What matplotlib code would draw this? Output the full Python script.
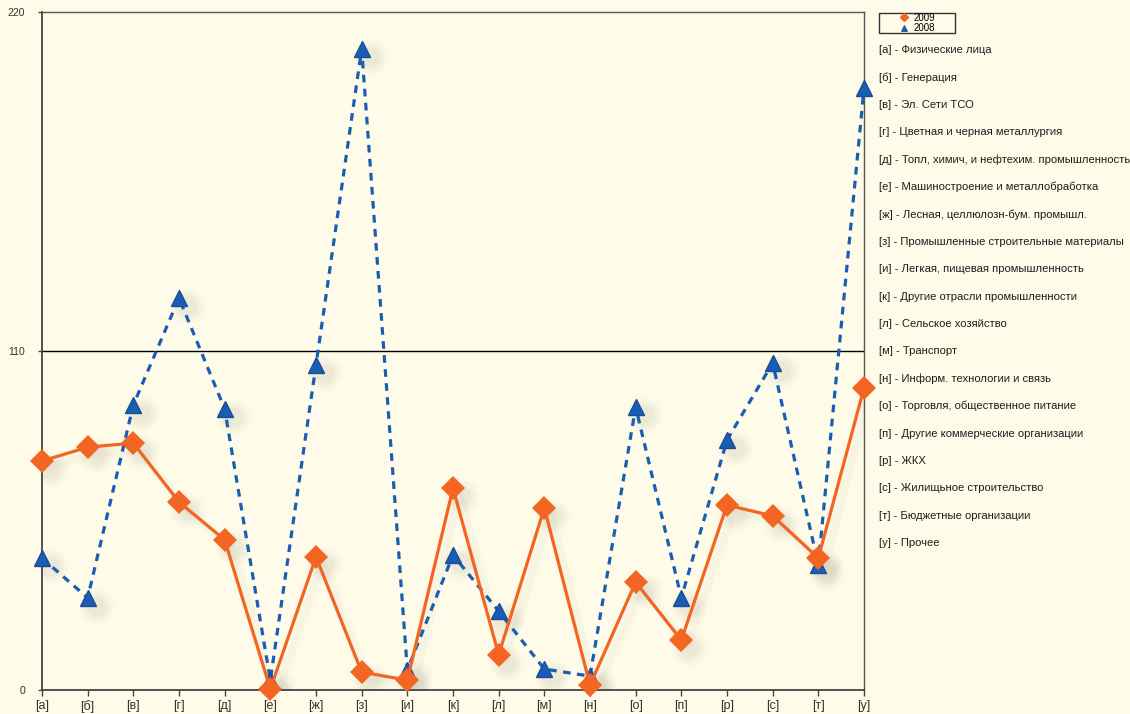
import matplotlib.pyplot as plt
import matplotlib.transforms as mtransforms
from matplotlib.lines import Line2D
from matplotlib.patches import Rectangle

plt.rcParams['font.family'] = ['Liberation Sans', 'DejaVu Sans']

# categories (x axis) and their descriptions
categories = ["[а]", "[б]", "[в]", "[г]", "[д]", "[е]", "[ж]", "[з]", "[и]", "[к]",
              "[л]", "[м]", "[н]", "[о]", "[п]", "[р]", "[с]", "[т]", "[у]"]
descriptions = [
    "Физические лица",
    "Генерация",
    "Эл. Сети ТСО",
    "Цветная и черная металлургия",
    "Топл, химич, и нефтехим. промышленность",
    "Машиностроение и металлобработка",
    "Лесная, целлюлозн-бум. промышл.",
    "Промышленные строительные материалы",
    "Легкая, пищевая промышленность",
    "Другие отрасли промышленности",
    "Сельское хозяйство",
    "Транспорт",
    "Информ. технологии и связь",
    "Торговля, общественное питание",
    "Другие коммерческие организации",
    "ЖКХ",
    "Жилищьное строительство",
    "Бюджетные организации",
    "Прочее",
]

vals_2009 = [74.3, 78.8, 80.1, 61.0, 48.7, 0.3, 43.2, 5.8, 3.2, 65.5,
             11.4, 59.1, 1.6, 35.0, 16.2, 60.0, 56.5, 42.8, 98.0]
vals_2008 = [42.8, 29.9, 92.5, 127.2, 91.2, 3.2, 105.5, 208.0, 6.5, 43.8,
             25.6, 6.8, 4.5, 91.8, 29.9, 81.1, 106.1, 40.6, 195.3]

y_ticks = [0, 110, 220]

bg = "#FEFBE8"
orange = "#F26522"
blue = "#1A5DB4"
blue_edge = "#1B4C96"
shadow = "#8A8A78"

fig = plt.figure(figsize=(11.3, 7.14), dpi=100, facecolor=bg)
ax = fig.add_axes([42 / 1130, 24 / 714, 822 / 1130, 678 / 714])
ax.set_facecolor(bg)

x = list(range(len(categories)))

# soft drop shadows: layered, growing, faint copies offset down-right
for ms, a in [(26, 0.025), (22, 0.035), (18, 0.045), (14, 0.05)]:
    tr = mtransforms.offset_copy(ax.transData, fig=fig, x=8, y=-8, units='dots')
    ax.plot(x, vals_2009, ls='none', marker='o', ms=ms, mew=0, color=shadow,
            alpha=a, transform=tr, zorder=1)
    ax.plot(x, vals_2008, ls='none', marker='o', ms=ms, mew=0, color=shadow,
            alpha=a, transform=tr, zorder=1)
for lw, a in [(8, 0.025), (5, 0.035)]:
    tr = mtransforms.offset_copy(ax.transData, fig=fig, x=6, y=-6, units='dots')
    ax.plot(x, vals_2009, '-', color=shadow, lw=lw, alpha=a, transform=tr, zorder=1)

ax.axhline(110, color='black', lw=1.0, zorder=2)

ax.plot(x, vals_2008, linestyle=(0, (2.4, 2.0)), color=blue, lw=2.3, marker='^', ms=12,
        mfc=blue, mec=blue_edge, mew=1.0, zorder=3, clip_on=False)
ax.plot(x, vals_2009, '-', color=orange, lw=2.3, marker='D', ms=12.5,
        mfc=orange, mec=orange, mew=0, zorder=4, clip_on=False)

ax.set_xlim(0, 18)
ax.set_ylim(0, 220)
ax.set_xticks(x)
ax.set_xticklabels(categories)
ax.set_yticks(y_ticks)
ax.set_yticklabels([str(v) for v in y_ticks])
ax.tick_params(axis='x', length=4, width=1, color='#444444', pad=3,
               labelsize=9, labelcolor='#333333')
ax.tick_params(axis='y', length=3, width=1, color='#444444', pad=9,
               labelsize=7.5, labelcolor='#333333')
for side in ['left', 'bottom']:
    ax.spines[side].set_color('#444444')
    ax.spines[side].set_linewidth(1.3)
for side in ['top', 'right']:
    ax.spines[side].set_color('#555555')
    ax.spines[side].set_linewidth(1.0)

# small legend box at the top right
fig.add_artist(Rectangle((879 / 1130, 1 - 33 / 714), 76 / 1130, 20 / 714,
                         transform=fig.transFigure, fill=False, ec='#333333', lw=1.0))
handles = [
    Line2D([], [], ls='none', marker='D', ms=4.5, color=orange),
    Line2D([], [], ls='none', marker='^', ms=5, color=blue, mec=blue_edge, mew=0.6),
]
fig.legend(handles, ["2009", "2008"], loc='center',
           bbox_to_anchor=(917 / 1130, 1 - 23 / 714), frameon=False, fontsize=7,
           handlelength=1.0, handletextpad=0.5, labelspacing=0.05, borderpad=0)

# category descriptions
for i, (cat, desc) in enumerate(zip(categories, descriptions)):
    ypix = 50 + i * 27.4
    fig.text(879 / 1130, 1 - ypix / 714, "{0} - {1}".format(cat, desc),
             fontsize=8.1, color='#1E1E1E', va='center', ha='left')

fig.savefig("out.png", dpi=100, facecolor=bg)
